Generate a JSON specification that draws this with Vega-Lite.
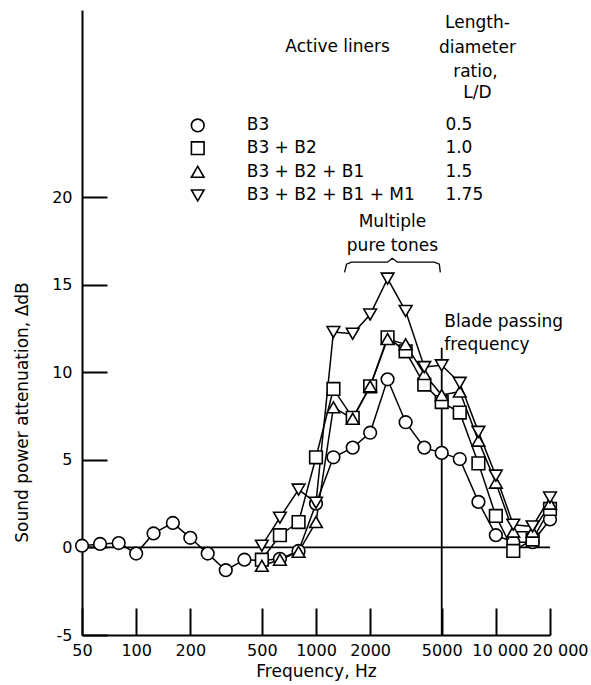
{
  "$schema": "https://vega.github.io/schema/vega-lite/v6.json",
  "width": 468,
  "height": 625,
  "autosize": {"type": "none"},
  "padding": {"left": 82, "top": 10, "right": 41, "bottom": 50},
  "background": "white",
  "config": {
    "view": {"stroke": null},
    "font": "DejaVu Sans",
    "axis": {
      "domainColor": "black",
      "domainWidth": 2,
      "tickColor": "black",
      "tickWidth": 2,
      "labelColor": "black",
      "titleColor": "black",
      "labelFont": "DejaVu Sans",
      "titleFont": "DejaVu Sans",
      "labelFontSize": 16,
      "titleFontSize": 17,
      "titleFontWeight": "normal",
      "grid": false,
      "labelFlush": false,
      "labelOverlap": false
    },
    "text": {"font": "DejaVu Sans", "fontSize": 17, "color": "black"}
  },
  "datasets": {
    "pts": [
      {"s": "B3", "f": 50, "v": 0.1}, {"s": "B3", "f": 63, "v": 0.2}, {"s": "B3", "f": 80, "v": 0.25},
      {"s": "B3", "f": 100, "v": -0.35}, {"s": "B3", "f": 125, "v": 0.8}, {"s": "B3", "f": 160, "v": 1.4},
      {"s": "B3", "f": 200, "v": 0.55}, {"s": "B3", "f": 250, "v": -0.35}, {"s": "B3", "f": 315, "v": -1.3},
      {"s": "B3", "f": 400, "v": -0.7}, {"s": "B3", "f": 500, "v": -0.75}, {"s": "B3", "f": 630, "v": -0.65},
      {"s": "B3", "f": 800, "v": -0.2}, {"s": "B3", "f": 1000, "v": 2.5}, {"s": "B3", "f": 1250, "v": 5.15},
      {"s": "B3", "f": 1600, "v": 5.7}, {"s": "B3", "f": 2000, "v": 6.55}, {"s": "B3", "f": 2500, "v": 9.6},
      {"s": "B3", "f": 3150, "v": 7.15}, {"s": "B3", "f": 4000, "v": 5.7}, {"s": "B3", "f": 5000, "v": 5.4},
      {"s": "B3", "f": 6300, "v": 5.05}, {"s": "B3", "f": 8000, "v": 2.6}, {"s": "B3", "f": 10000, "v": 0.7},
      {"s": "B3", "f": 12500, "v": 0.3}, {"s": "B3", "f": 16000, "v": 0.3}, {"s": "B3", "f": 20000, "v": 1.6},

      {"s": "B3 + B2", "f": 500, "v": -0.7}, {"s": "B3 + B2", "f": 630, "v": 0.7}, {"s": "B3 + B2", "f": 800, "v": 1.45},
      {"s": "B3 + B2", "f": 1000, "v": 5.15}, {"s": "B3 + B2", "f": 1250, "v": 9.05}, {"s": "B3 + B2", "f": 1600, "v": 7.4},
      {"s": "B3 + B2", "f": 2000, "v": 9.2}, {"s": "B3 + B2", "f": 2500, "v": 12.0}, {"s": "B3 + B2", "f": 3150, "v": 11.2},
      {"s": "B3 + B2", "f": 4000, "v": 9.3}, {"s": "B3 + B2", "f": 5000, "v": 8.3}, {"s": "B3 + B2", "f": 6300, "v": 7.7},
      {"s": "B3 + B2", "f": 8000, "v": 4.8}, {"s": "B3 + B2", "f": 10000, "v": 1.8}, {"s": "B3 + B2", "f": 12500, "v": -0.2},
      {"s": "B3 + B2", "f": 16000, "v": 0.45}, {"s": "B3 + B2", "f": 20000, "v": 2.2},

      {"s": "B3 + B2 + B1", "f": 500, "v": -1.05}, {"s": "B3 + B2 + B1", "f": 630, "v": -0.7}, {"s": "B3 + B2 + B1", "f": 800, "v": -0.25},
      {"s": "B3 + B2 + B1", "f": 1000, "v": 1.45}, {"s": "B3 + B2 + B1", "f": 1250, "v": 8.0}, {"s": "B3 + B2 + B1", "f": 1600, "v": 7.35},
      {"s": "B3 + B2 + B1", "f": 2000, "v": 9.2}, {"s": "B3 + B2 + B1", "f": 2500, "v": 11.9}, {"s": "B3 + B2 + B1", "f": 3150, "v": 11.6},
      {"s": "B3 + B2 + B1", "f": 4000, "v": 9.9}, {"s": "B3 + B2 + B1", "f": 5000, "v": 8.7}, {"s": "B3 + B2 + B1", "f": 6300, "v": 8.9},
      {"s": "B3 + B2 + B1", "f": 8000, "v": 6.1}, {"s": "B3 + B2 + B1", "f": 10000, "v": 3.7}, {"s": "B3 + B2 + B1", "f": 12500, "v": 0.9},
      {"s": "B3 + B2 + B1", "f": 16000, "v": 0.9}, {"s": "B3 + B2 + B1", "f": 20000, "v": 2.5},

      {"s": "B3 + B2 + B1 + M1", "f": 500, "v": 0.1}, {"s": "B3 + B2 + B1 + M1", "f": 630, "v": 1.7}, {"s": "B3 + B2 + B1 + M1", "f": 800, "v": 3.3},
      {"s": "B3 + B2 + B1 + M1", "f": 1000, "v": 2.55}, {"s": "B3 + B2 + B1 + M1", "f": 1250, "v": 12.3}, {"s": "B3 + B2 + B1 + M1", "f": 1600, "v": 12.2},
      {"s": "B3 + B2 + B1 + M1", "f": 2000, "v": 13.3}, {"s": "B3 + B2 + B1 + M1", "f": 2500, "v": 15.35}, {"s": "B3 + B2 + B1 + M1", "f": 3150, "v": 13.5},
      {"s": "B3 + B2 + B1 + M1", "f": 4000, "v": 10.3}, {"s": "B3 + B2 + B1 + M1", "f": 5000, "v": 10.4}, {"s": "B3 + B2 + B1 + M1", "f": 6300, "v": 9.4},
      {"s": "B3 + B2 + B1 + M1", "f": 8000, "v": 6.6}, {"s": "B3 + B2 + B1 + M1", "f": 10000, "v": 4.1}, {"s": "B3 + B2 + B1 + M1", "f": 12500, "v": 1.3},
      {"s": "B3 + B2 + B1 + M1", "f": 16000, "v": 1.2}, {"s": "B3 + B2 + B1 + M1", "f": 20000, "v": 2.85}
    ],
    "leg": [
      {"s": "B3", "ld": "0.5", "v": 24.1},
      {"s": "B3 + B2", "ld": "1.0", "v": 22.8},
      {"s": "B3 + B2 + B1", "ld": "1.5", "v": 21.45},
      {"s": "B3 + B2 + B1 + M1", "ld": "1.75", "v": 20.1}
    ],
    "notes": [
      {"t": "Active liners", "f": 1318, "v": 28.57},
      {"t": "Length-", "f": 7900, "v": 29.94},
      {"t": "diameter", "f": 7900, "v": 28.51},
      {"t": "ratio,", "f": 7700, "v": 27.14},
      {"t": "L/D", "f": 7900, "v": 25.94},
      {"t": "Multiple", "f": 2660, "v": 18.57},
      {"t": "pure tones", "f": 2660, "v": 17.2}
    ],
    "blade": [
      {"t": "Blade passing", "f": 5170, "v": 12.86},
      {"t": "frequency", "f": 5170, "v": 11.54}
    ],
    "brace": [
      {"f": 1441, "v": 15.71}, {"f": 1478, "v": 16.17}, {"f": 1576, "v": 16.29},
      {"f": 2496, "v": 16.29}, {"f": 2660, "v": 16.51}, {"f": 2836, "v": 16.29},
      {"f": 4549, "v": 16.29}, {"f": 4850, "v": 16.17}, {"f": 4912, "v": 15.71}
    ],
    "refs": [
      {"f0": 50, "f1": 20000, "v0": 0, "v1": 0, "w": "zero"},
      {"f0": 5000, "f1": 5000, "v0": -5, "v1": 11.4, "w": "bpf"}
    ]
  },
  "layer": [
    {
      "data": {"name": "pts"},
      "mark": {"type": "point", "filled": true, "fill": "white", "stroke": "black", "strokeWidth": 1.6, "size": 150, "opacity": 0},
      "encoding": {
        "x": {
          "field": "f", "type": "quantitative",
          "scale": {"type": "log", "domain": [50, 20000], "nice": false},
          "axis": {
            "title": "Frequency, Hz",
            "values": [50, 100, 200, 500, 1000, 2000, 5000, 10000, 20000],
            "labelExpr": "datum.value >= 10000 ? format(datum.value / 1000, 'd') + ' 000' : format(datum.value, 'd')",
            "labelOffset": {"condition": [{"test": "datum.value == 20000", "value": 10}, {"test": "datum.value == 10000", "value": 4}], "value": 0},
            "tickSize": -27,
            "labelPadding": 34,
            "titlePadding": 5
          }
        },
        "y": {
          "field": "v", "type": "quantitative",
          "scale": {"domain": [-5, 30.69], "nice": false, "zero": false},
          "axis": {
            "title": "Sound power attenuation, ΔdB",
            "values": [-5, 0, 5, 10, 15, 20],
            "labelExpr": "datum.value + ''",
            "tickSize": -25,
            "labelPadding": 35,
            "titleX": -51,
            "titleY": 402
          }
        }
      }
    },
    {
      "data": {"name": "refs"},
      "mark": {"type": "rule", "color": "black", "strokeWidth": 1.8},
      "encoding": {
        "x": {"field": "f0", "type": "quantitative"},
        "x2": {"field": "f1"},
        "y": {"field": "v0", "type": "quantitative"},
        "y2": {"field": "v1"}
      }
    },
    {
      "data": {"name": "pts"},
      "mark": {"type": "line", "color": "black", "strokeWidth": 1.5},
      "encoding": {
        "x": {"field": "f", "type": "quantitative"},
        "y": {"field": "v", "type": "quantitative"},
        "detail": {"field": "s"},
        "order": {"field": "f"}
      }
    },
    {
      "data": {"name": "pts"},
      "mark": {"type": "point", "filled": true, "fill": "white", "stroke": "black", "strokeWidth": 1.6, "size": 160, "opacity": 1},
      "encoding": {
        "x": {"field": "f", "type": "quantitative"},
        "y": {"field": "v", "type": "quantitative"},
        "shape": {
          "field": "s", "type": "nominal",
          "scale": {"domain": ["B3", "B3 + B2", "B3 + B2 + B1", "B3 + B2 + B1 + M1"], "range": ["circle", "square", "triangle-up", "triangle-down"]},
          "legend": null
        }
      }
    },
    {
      "data": {"name": "leg"},
      "mark": {"type": "point", "filled": true, "fill": "white", "stroke": "black", "strokeWidth": 1.6, "size": 160, "opacity": 1},
      "encoding": {
        "x": {"datum": 220, "type": "quantitative"},
        "y": {"field": "v", "type": "quantitative"},
        "shape": {"field": "s", "type": "nominal", "legend": null}
      }
    },
    {
      "data": {"name": "leg"},
      "mark": {"type": "text", "align": "left", "baseline": "middle"},
      "encoding": {
        "x": {"datum": 412, "type": "quantitative"},
        "y": {"field": "v", "type": "quantitative"},
        "text": {"field": "s"}
      }
    },
    {
      "data": {"name": "leg"},
      "mark": {"type": "text", "align": "left", "baseline": "middle"},
      "encoding": {
        "x": {"datum": 5240, "type": "quantitative"},
        "y": {"field": "v", "type": "quantitative"},
        "text": {"field": "ld"}
      }
    },
    {
      "data": {"name": "notes"},
      "mark": {"type": "text", "align": "center", "baseline": "middle"},
      "encoding": {
        "x": {"field": "f", "type": "quantitative"},
        "y": {"field": "v", "type": "quantitative"},
        "text": {"field": "t"}
      }
    },
    {
      "data": {"name": "blade"},
      "mark": {"type": "text", "align": "left", "baseline": "middle"},
      "encoding": {
        "x": {"field": "f", "type": "quantitative"},
        "y": {"field": "v", "type": "quantitative"},
        "text": {"field": "t"}
      }
    },
    {
      "data": {"name": "brace"},
      "mark": {"type": "line", "color": "black", "strokeWidth": 1.3},
      "encoding": {
        "x": {"field": "f", "type": "quantitative"},
        "y": {"field": "v", "type": "quantitative"}
      }
    }
  ]
}
